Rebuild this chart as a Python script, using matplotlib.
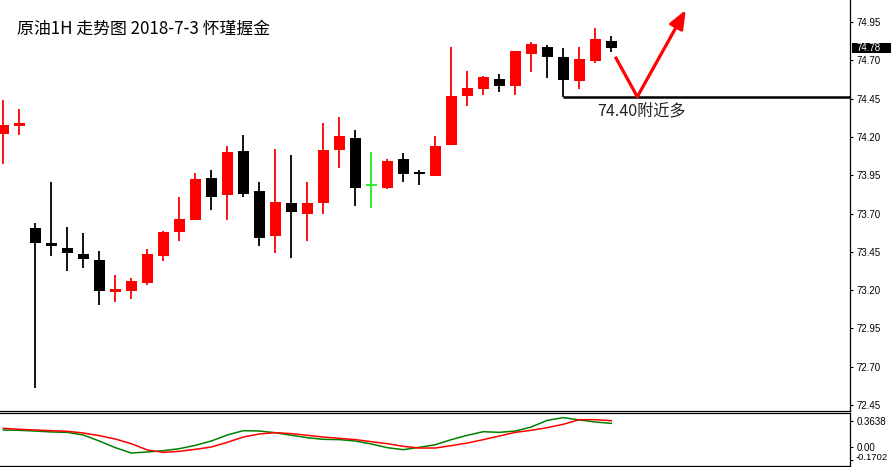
import matplotlib
matplotlib.use("Agg")
import matplotlib.pyplot as plt
import matplotlib.transforms as mtransforms
from matplotlib.patches import Rectangle
import numpy as np

plt.rcParams['font.family'] = ['Noto Sans CJK SC', 'DejaVu Sans']

# ---- data (hourly crude oil candles) ----
opens  = [74.22, 74.27, 73.605, 73.505, 73.475, 73.435, 73.395, 73.185, 73.195, 73.245,
          73.425, 73.58, 73.655, 73.93, 73.82, 74.11, 73.845, 73.555, 73.77, 73.70,
          73.77, 74.115, 74.19, 73.885, 73.865, 74.055, 73.97, 73.945, 74.15, 74.47,
          74.51, 74.58, 74.53, 74.74, 74.79, 74.72, 74.565, 74.695, 74.825]
highs  = [74.44, 74.38, 73.635, 73.905, 73.615, 73.575, 73.455, 73.30, 73.28, 73.47,
          73.585, 73.81, 73.965, 73.985, 74.14, 74.21, 73.905, 74.12, 74.08, 73.905,
          74.29, 74.33, 74.245, 74.10, 74.055, 74.095, 73.985, 74.205, 74.785, 74.63,
          74.60, 74.61, 74.76, 74.82, 74.80, 74.78, 74.785, 74.91, 74.86]
lows   = [74.02, 74.21, 72.56, 73.425, 73.325, 73.345, 73.10, 73.125, 73.14, 73.235,
          73.39, 73.52, 73.655, 73.72, 73.655, 73.81, 73.49, 73.445, 73.41, 73.52,
          73.70, 73.995, 73.75, 73.735, 73.86, 73.905, 73.885, 73.945, 74.15, 74.40,
          74.475, 74.49, 74.475, 74.625, 74.585, 74.462, 74.51, 74.685, 74.755]
closes = [74.28, 74.29, 73.51, 73.485, 73.445, 73.405, 73.195, 73.205, 73.26, 73.435,
          73.58, 73.665, 73.925, 73.81, 74.10, 73.83, 73.54, 73.775, 73.71, 73.77,
          74.115, 74.205, 73.865, 73.885, 74.04, 73.96, 73.955, 74.14, 74.47, 74.52,
          74.59, 74.53, 74.76, 74.805, 74.72, 74.57, 74.71, 74.84, 74.78]

# oscillator sub-window (two lines)
osc_main   = [0.239, 0.235, 0.225, 0.212, 0.207, 0.170, 0.087, -0.005, -0.079, -0.065,
              -0.047, -0.019, 0.027, 0.087, 0.170, 0.230, 0.225, 0.202, 0.166, 0.133,
              0.110, 0.106, 0.087, 0.046, -0.005, -0.033, 0.000, 0.036, 0.106, 0.166,
              0.216, 0.207, 0.225, 0.281, 0.373, 0.410, 0.378, 0.350, 0.331]
osc_signal = [0.262, 0.249, 0.239, 0.230, 0.221, 0.198, 0.161, 0.115, 0.050, -0.037,
              -0.070, -0.056, -0.028, 0.004, 0.069, 0.142, 0.184, 0.202, 0.189, 0.166,
              0.142, 0.124, 0.106, 0.078, 0.050, 0.013, -0.010, -0.010, 0.023, 0.059,
              0.106, 0.156, 0.207, 0.235, 0.272, 0.318, 0.382, 0.382, 0.368]

price_ticks = [72.45, 72.70, 72.95, 73.20, 73.45, 73.70, 73.95, 74.20, 74.45, 74.70, 74.95]
osc_ticks = [0.3638, 0.00, -0.1702]
osc_tick_labels = ["0.3638", "0.00", "-0.1702"]
last_price = 74.78
support_level = 74.462
support_start = 35
title = "原油1H 走势图 2018-7-3 怀瑾握金"
note = "74.40附近多"
arrow_path_x = [38.25, 39.625, 42.65]
arrow_path_y = [74.723, 74.462, 75.028]

# ---- figure ----
W, H = 891, 467
fig = plt.figure(figsize=(W / 100, H / 100), dpi=100)
fig.patch.set_facecolor('white')

right_frac = 850 / W
ax = fig.add_axes([0, (H - 411) / H, right_frac, 411 / H])
ax2 = fig.add_axes([0, (H - 465.5) / H, right_frac, (465.5 - 413.3) / H])

x = np.arange(len(opens))
o = np.array(opens); h = np.array(highs); l = np.array(lows); c = np.array(closes)

RED = '#FF0000'
BLACK = '#000000'
LIME = '#1EEB1E'

up = c > o
down = c < o
doji = c == o
colors = np.where(up, RED, np.where(down, BLACK, LIME))

body_w = 11 / 16
ax.vlines(x, l, h, colors=colors, linewidth=1.3, zorder=2)
bottoms = np.minimum(o, c)
heights = np.maximum(np.abs(c - o), 0.012)
mask = ~doji
ax.bar(x[mask], heights[mask], bottom=bottoms[mask], width=body_w,
       color=colors[mask], edgecolor=colors[mask], linewidth=0, zorder=3)
for xi in x[doji]:
    ax.hlines(o[xi], xi - body_w / 2, xi + body_w / 2, colors=LIME, linewidth=1.3, zorder=3)

xl = (-3.3 / 16, (850 - 3.3) / 16)
ax.set_xlim(*xl)
ax.set_ylim(72.45 - 6 / 153.2, 72.45 + 405 / 153.2)

# support line
ax.hlines(support_level, support_start, xl[1], colors='black', linewidth=1.8, zorder=4)

# red arrow
ax.plot(arrow_path_x[:2], arrow_path_y[:2], color=RED, linewidth=2.3,
        solid_capstyle='butt', zorder=5)
ax.annotate('', xy=(arrow_path_x[2], arrow_path_y[2]),
            xytext=(arrow_path_x[1], arrow_path_y[1]),
            arrowprops=dict(arrowstyle='-|>,head_length=1.1,head_width=0.45',
                            color=RED, linewidth=2.3, shrinkA=0, shrinkB=0),
            zorder=5, annotation_clip=False)

ax.text(37.1, 74.37, note, fontsize=11.6, color='#222222', ha='left', va='center',
        family=['Noto Sans CJK SC', 'DejaVu Sans'])

# spines / ticks for main
for s in ['left', 'top']:
    ax.spines[s].set_visible(False)
for s in ['right', 'bottom']:
    ax.spines[s].set_linewidth(0.9)
ax.set_xticks([])
ax.yaxis.tick_right()
ax.set_yticks(price_ticks)
ax.set_yticklabels([f"{t:.2f}" for t in price_ticks])
ax.tick_params(axis='y', direction='out', length=2.5, width=0.8, pad=2,
               labelsize=7, colors='black')
for lab in ax.get_yticklabels():
    lab.set_family('Liberation Sans')

# last price box
trans = mtransforms.blended_transform_factory(ax.transAxes, ax.transData)
box_h = 10 / 153.2
ax.add_patch(Rectangle((1.0 + 2 / 850, last_price - box_h / 2), 40 / 850, box_h,
                       transform=trans, facecolor='black', edgecolor='none',
                       clip_on=False, zorder=6))
ax.text(1.0 + 6 / 850, last_price, f"{last_price:.2f}", transform=trans,
        color='white', fontsize=7, family='Liberation Sans', ha='left', va='center',
        zorder=7, clip_on=False)

# ---- oscillator ----
ax2.plot(x, osc_main, color='#008000', linewidth=1.1)
ax2.plot(x, osc_signal, color=RED, linewidth=1.1)
ax2.set_xlim(*xl)
ax2.set_ylim((447.3 - 465.5) * 0.01383, (447.3 - 413.3) * 0.01383)
ax2.spines['left'].set_visible(False)
for s in ['right', 'bottom', 'top']:
    ax2.spines[s].set_linewidth(0.9)
ax2.set_xticks([])
ax2.yaxis.tick_right()
ax2.set_yticks(osc_ticks)
ax2.set_yticklabels(osc_tick_labels[:2] + [""])
ax2.tick_params(axis='y', direction='out', length=2.5, width=0.8, pad=2,
                labelsize=7, colors='black')
for lab in ax2.get_yticklabels():
    lab.set_family('Liberation Sans')
# lowest scale label, nudged up as in the terminal's layout
trans2 = mtransforms.blended_transform_factory(ax2.transAxes, ax2.transData) + \
    mtransforms.ScaledTranslation(0, 2.6 / 100, fig.dpi_scale_trans)
ax2.text(1.0 + 6 / 850, osc_ticks[2], osc_tick_labels[2], transform=trans2,
         fontsize=6.8, family='Liberation Sans', ha='left', va='center', clip_on=False)

fig.text(17 / W, (H - 28.3) / H, title, fontsize=12.2, color='black',
         ha='left', va='center', family=['Noto Sans CJK SC', 'DejaVu Sans'])

fig.savefig('out.png', dpi=100, facecolor='white')
